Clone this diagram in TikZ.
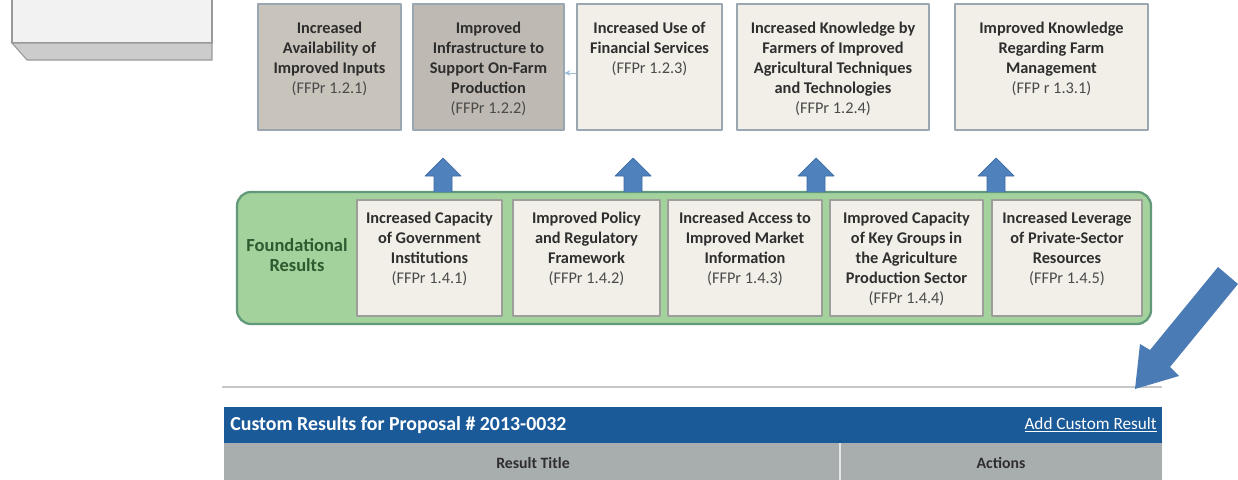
\documentclass[tikz,border=0pt]{standalone}
\usepackage{fontspec}
\setmainfont{Carlito}
\usetikzlibrary{positioning,fit}

\definecolor{boxgray}{HTML}{C8C3BB}
\definecolor{boxlight}{HTML}{F1EFE8}
\definecolor{boxedge}{HTML}{9AA6B2}
\definecolor{baseedge}{HTML}{9C9E9A}
\definecolor{framefill}{HTML}{A3D29C}
\definecolor{frameedge}{HTML}{62997A}
\definecolor{arrblue}{HTML}{4F81BD}
\definecolor{arredge}{HTML}{3D6BA3}
\definecolor{hdrblue}{HTML}{1B5A98}
\definecolor{rowgray}{HTML}{A8ADAE}
\definecolor{txtdark}{HTML}{2E2E2E}
\definecolor{txtcode}{HTML}{4A4A4A}
\definecolor{txtgreen}{HTML}{2F5A30}

\tikzset{
  topgray/.style={draw=boxedge, fill=boxgray, inner sep=0pt, line width=0.6pt},
  toplight/.style={draw=boxedge, fill=boxlight, inner sep=0pt, line width=0.6pt},
  basebox/.style={draw=baseedge, fill=boxlight, inner sep=0pt, line width=0.6pt},
  boxtext/.style={align=center, inner sep=0pt, text=txtdark,
    font=\fontsize{9.3}{11.4}\selectfont\bfseries},
  uparrow/.style={fill=arrblue, draw=arredge, line width=0.4pt},
  smallarr/.style={->, >=stealth, draw=arrblue!55, line width=0.5pt},
}
\newcommand{\ffpr}[1]{{\mdseries\color{txtcode}#1}}

\begin{document}
\begin{tikzpicture}[x=0.02cm, y=-0.02cm, line join=round]
  \clip (0,0) rectangle (1238,480);
  \fill[white] (0,0) rectangle (1238,480);

  % cut-off box at the top left
  \filldraw[fill=black!5, draw=black!40, line width=0.6pt] (12,-5) -- (12,43) -- (212,43) -- (212,-5);
  \filldraw[fill=black!20, draw=black!40, line width=0.6pt] (12,43) -- (212,43) -- (212,60) -- (27,60) -- cycle;

  % top row
  \node[topgray, fit={(258,4) (401,130)}] (t1) {};
  \node[topgray, fill=boxgray!95!black, fit={(413,4) (564,130)}] (t2) {};
  \node[toplight, fit={(577,4) (722,130)}] (t3) {};
  \node[toplight, fit={(737,4) (929,130)}] (t4) {};
  \node[toplight, fit={(955,4) (1148,130)}] (t5) {};

  \node[boxtext, below=0.36cm of t1.north] (t1txt) {Increased\\Availability of\\Improved Inputs\\\ffpr{(FFPr 1.2.1)}};
  \node[boxtext, below=0.36cm of t2.north] (t2txt) {Improved\\Infrastructure to\\Support On-Farm\\Production\\\ffpr{(FFPr 1.2.2)}};
  \node[boxtext, below=0.36cm of t3.north] (t3txt) {Increased Use of\\Financial Services\\\ffpr{(FFPr 1.2.3)}};
  \node[boxtext, below=0.36cm of t4.north] (t4txt) {Increased Knowledge by\\Farmers of Improved\\Agricultural Techniques\\and Technologies\\\ffpr{(FFPr 1.2.4)}};
  \node[boxtext, below=0.36cm of t5.north] (t5txt) {Improved Knowledge\\Regarding Farm\\Management\\\ffpr{(FFP r 1.3.1)}};

  \draw[smallarr] (t3.west |- 0,73) -- (t2.east |- 0,73);

  % foundational results
  \node[fit={(237,192) (1151,324)}, inner sep=0pt, fill=framefill, draw=frameedge,
        line width=1.3pt, rounded corners=0.28cm] (frame) {};
  \node[boxtext, text=txtgreen, font=\fontsize{10.5}{11.4}\selectfont\bfseries] (found) at (297,255) {Foundational\\Results};

  \node[basebox, fit={(357,200) (502,316)}] (b1) {};
  \node[basebox, fit={(513,200) (660,316)}] (b2) {};
  \node[basebox, fit={(668,200) (822,316)}] (b3) {};
  \node[basebox, fit={(830,200) (983,316)}] (b4) {};
  \node[basebox, fit={(992,200) (1142,316)}] (b5) {};

  \node[boxtext, below=0.25cm of b1.north] (b1txt) {Increased Capacity\\of Government\\Institutions\\\ffpr{(FFPr 1.4.1)}};
  \node[boxtext, below=0.25cm of b2.north] (b2txt) {Improved Policy\\and Regulatory\\Framework\\\ffpr{(FFPr 1.4.2)}};
  \node[boxtext, below=0.25cm of b3.north] (b3txt) {Increased Access to\\Improved Market\\Information\\\ffpr{(FFPr 1.4.3)}};
  \node[boxtext, below=0.25cm of b4.north] (b4txt) {Improved Capacity\\of Key Groups in\\the Agriculture\\Production Sector\\\ffpr{(FFPr 1.4.4)}};
  \node[boxtext, below=0.25cm of b5.north] (b5txt) {Increased Leverage\\of Private-Sector\\Resources\\\ffpr{(FFPr 1.4.5)}};

  \foreach \x in {443,633,816,996}
    \filldraw[uparrow] (\x-9,192) -- (\x-9,176) -- (\x-18,176) -- (\x,158) -- (\x+18,176) -- (\x+9,176) -- (\x+9,192);

  % separator and pointer
  \draw[black!22, line width=1.2pt] (222,387) -- (1162,387);
  \fill[arrblue!95!black] (1218,267) -- (1150,350) -- (1140,344) -- (1135,389) -- (1179,376) -- (1170,367) -- (1238,284) -- cycle;

  % custom results table
  \node[fit={(224,407) (1162,443)}, inner sep=0pt, fill=hdrblue] (hdr) {};
  \node[fit={(224,443) (1162,485)}, inner sep=0pt, fill=rowgray] (row) {};
  \draw[white!70!rowgray, line width=0.8pt] (840,443) -- (840,485);
  \node[anchor=west, inner sep=0pt, text=white, font=\fontsize{11.3}{13}\selectfont\bfseries] (hdrtxt) at (230,425) {Custom Results for Proposal \# 2013-0032};
  \node[anchor=east, inner sep=0pt, text=white, font=\fontsize{9.8}{11}\selectfont] (addres) at (1157,425) {\underline{Add Custom Result}};
  \node[inner sep=0pt, text=txtdark, font=\fontsize{9}{10}\selectfont\bfseries] (coltitle) at (533,463) {Result Title};
  \node[inner sep=0pt, text=txtdark, font=\fontsize{9}{10}\selectfont\bfseries] (colact) at (1001,463) {Actions};
\end{tikzpicture}
\end{document}
